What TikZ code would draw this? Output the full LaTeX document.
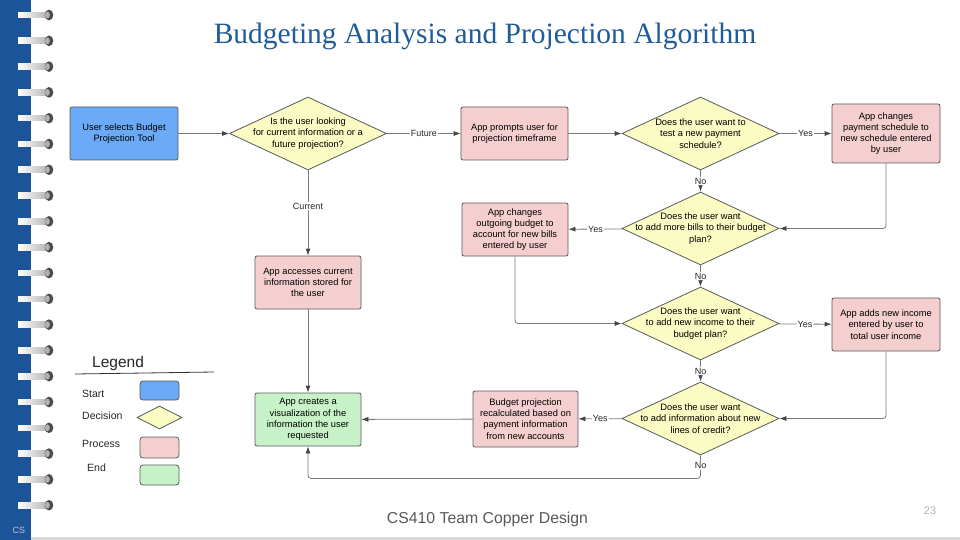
\documentclass[tikz,border=0pt]{standalone}
\usepackage{fontspec}
\setmainfont{Liberation Sans}
\newfontfamily\titlefont{Liberation Serif}
\usetikzlibrary{shapes.geometric,arrows.meta}

\definecolor{binding}{HTML}{1B5499}
\definecolor{titleblue}{HTML}{1F5C99}
\definecolor{startfill}{HTML}{6AAAF6}
\definecolor{decfill}{HTML}{FBFBC4}
\definecolor{procfill}{HTML}{F5CFD0}
\definecolor{endfill}{HTML}{C7F2C8}
\definecolor{edgeclr}{HTML}{7A7A7A}
\definecolor{tipclr}{HTML}{454545}
\definecolor{bordclr}{HTML}{5A5A5A}
\definecolor{footclr}{HTML}{595959}

\begin{document}
\begin{tikzpicture}[x=1pt,y=-1pt,
 box/.style={draw=bordclr, line width=0.8pt, rounded corners=2pt, align=center,
   font=\fontsize{9.3}{11.2}\selectfont, inner sep=0pt},
 startbox/.style={box, fill=startfill},
 procbox/.style={box, fill=procfill},
 endbox/.style={box, fill=endfill},
 dec/.style={draw=bordclr, line width=0.8pt, fill=decfill, diamond, inner sep=0pt,
   minimum width=157pt, minimum height=73pt},
 dtext/.style={align=center, font=\fontsize{9.3}{11.2}\selectfont, inner sep=0pt},
 conn/.style={draw=edgeclr, line width=0.8pt, -{Latex[length=7pt,width=5pt,color=tipclr]}, rounded corners=3pt},
 elabel/.style={fill=white, inner sep=1pt, font=\fontsize{9}{10}\selectfont, text=black!85},
 legtext/.style={anchor=west, font=\fontsize{10.5}{12}\selectfont, text=black!85, inner sep=0pt},
]
\useasboundingbox (0,0) rectangle (960,540);
\fill[white] (0,0) rectangle (960,540);

% binding
\fill[binding] (0,0) rectangle (31,540);
\fill[gray!30] (31,537) rectangle (960,540);
\node[text=gray!45, font=\fontsize{9}{10}\selectfont] (cs) at (19,530) {CS};
\foreach \i in {0,...,19}{
  \pgfmathsetmacro{\yy}{15+25.8*\i}
  \shade[left color=white, right color=gray!55] (18,\yy-2.8) rectangle (46,\yy+2.8);
  \fill[black!70] (49,\yy) ellipse (4.3 and 5.3);
  \fill[black!30] (47.4,\yy) ellipse (2.4 and 3.4);
}

% title
\node[font=\titlefont\fontsize{29.5}{34}\selectfont, text=titleblue] (title) at (485,36)
  {Budgeting Analysis and Projection Algorithm};

% nodes
\node[startbox, minimum width=108pt, minimum height=53pt] (start) at (124,133.5)
  {User selects Budget\\Projection Tool};
\node[dec] (d1) at (308,133.5) {};
\node[dtext] (d1t) at (d1) {Is the user looking\\for current information or a\\future projection?};
\node[procbox, minimum width=107pt, minimum height=53pt] (p1) at (514.5,133.5)
  {App prompts user for\\projection timeframe};
\node[dec] (d2) at (700.5,133.5) {};
\node[dtext] (d2t) at (d2) {Does the user want to\\test a new payment\\schedule?};
\node[procbox, minimum width=108pt, minimum height=59pt] (p2) at (886,133.5)
  {App changes\\payment schedule to\\new schedule entered\\by user};
\node[dec] (d3) at (700.5,228.5) {};
\node[dtext] (d3t) at (d3) {Does the user want\\to add more bills to their budget\\plan?};
\node[procbox, minimum width=106pt, minimum height=53pt] (p3) at (515,229.5)
  {App changes\\outgoing budget to\\account for new bills\\entered by user};
\node[dec] (d4) at (700.5,323.5) {};
\node[dtext] (d4t) at (d4) {Does the user want\\to add new income to their\\budget plan?};
\node[procbox, minimum width=108pt, minimum height=53pt] (p4) at (886,324.5)
  {App adds new income\\entered by user to\\total user income};
\node[dec] (d5) at (700.5,418.5) {};
\node[dtext] (d5t) at (d5) {Does the user want\\to add information about new\\lines of credit?};
\node[procbox, minimum width=105pt, minimum height=56pt] (p5) at (525.5,419)
  {Budget projection\\recalculated based on\\payment information\\from new accounts};
\node[endbox, minimum width=106pt, minimum height=53pt] (e1) at (308,419.5)
  {App creates a\\visualization of the\\information the user\\requested};
\node[procbox, minimum width=106pt, minimum height=53pt] (p6) at (308,282.5)
  {App accesses current\\information stored for\\the user};

% connectors
\draw[conn] (start) -- (d1);
\draw[conn] (d1) -- node[elabel]{Future} (p1);
\draw[conn] (p1) -- (d2);
\draw[conn] (d2) -- node[elabel]{Yes} (p2);
\draw[conn] (d2) -- node[elabel]{No} (d3);
\draw[conn] (p2.south) |- (d3.east);
\draw[conn] (d3) -- node[elabel]{Yes} (p3);
\draw[conn] (d3) -- node[elabel]{No} (d4);
\draw[conn] (p3.south) |- (d4.west);
\draw[conn] (d4) -- node[elabel]{Yes} (p4);
\draw[conn] (d4) -- node[elabel]{No} (d5);
\draw[conn] (p4.south) |- (d5.east);
\draw[conn] (d5) -- node[elabel]{Yes} (p5);
\draw[conn] (p5) -- (e1);
\draw[conn] (d1) -- node[elabel,pos=0.42]{Current} (p6);
\draw[conn] (p6) -- (e1);
\draw[conn] (d5.south) -- node[elabel,pos=0.45]{No} ++(0,23) -| (e1.south);

% legend
\node[anchor=west, font=\fontsize{15.5}{18}\selectfont, text=black!85, inner sep=0pt] (legtitle) at (92,363) {Legend};
\draw[black!80, line width=0.8pt] (75,374) -- (214,372);
\node[legtext] (lstart) at (82,394) {Start};
\node[legtext] (ldec) at (82,416) {Decision};
\node[legtext] (lproc) at (82,444) {Process};
\node[legtext] (lend) at (87,468) {End};
\node[startbox, minimum width=39pt, minimum height=19pt, rounded corners=3pt] (lgs) at (159.5,390.5) {};
\node[dec, minimum width=45pt, minimum height=23pt] (lgd) at (159.5,417.5) {};
\node[procbox, minimum width=39pt, minimum height=21pt, rounded corners=3pt] (lgp) at (159.5,447.5) {};
\node[endbox, minimum width=39pt, minimum height=20pt, rounded corners=3pt] (lge) at (159.5,475) {};

% footer
\node[text=footclr, font=\fontsize{15.8}{18}\selectfont] (footer) at (487.5,519) {CS410 Team Copper Design};
\node[text=gray!60, font=\fontsize{11}{13}\selectfont] (pagenum) at (930,511) {23};
\end{tikzpicture}
\end{document}
